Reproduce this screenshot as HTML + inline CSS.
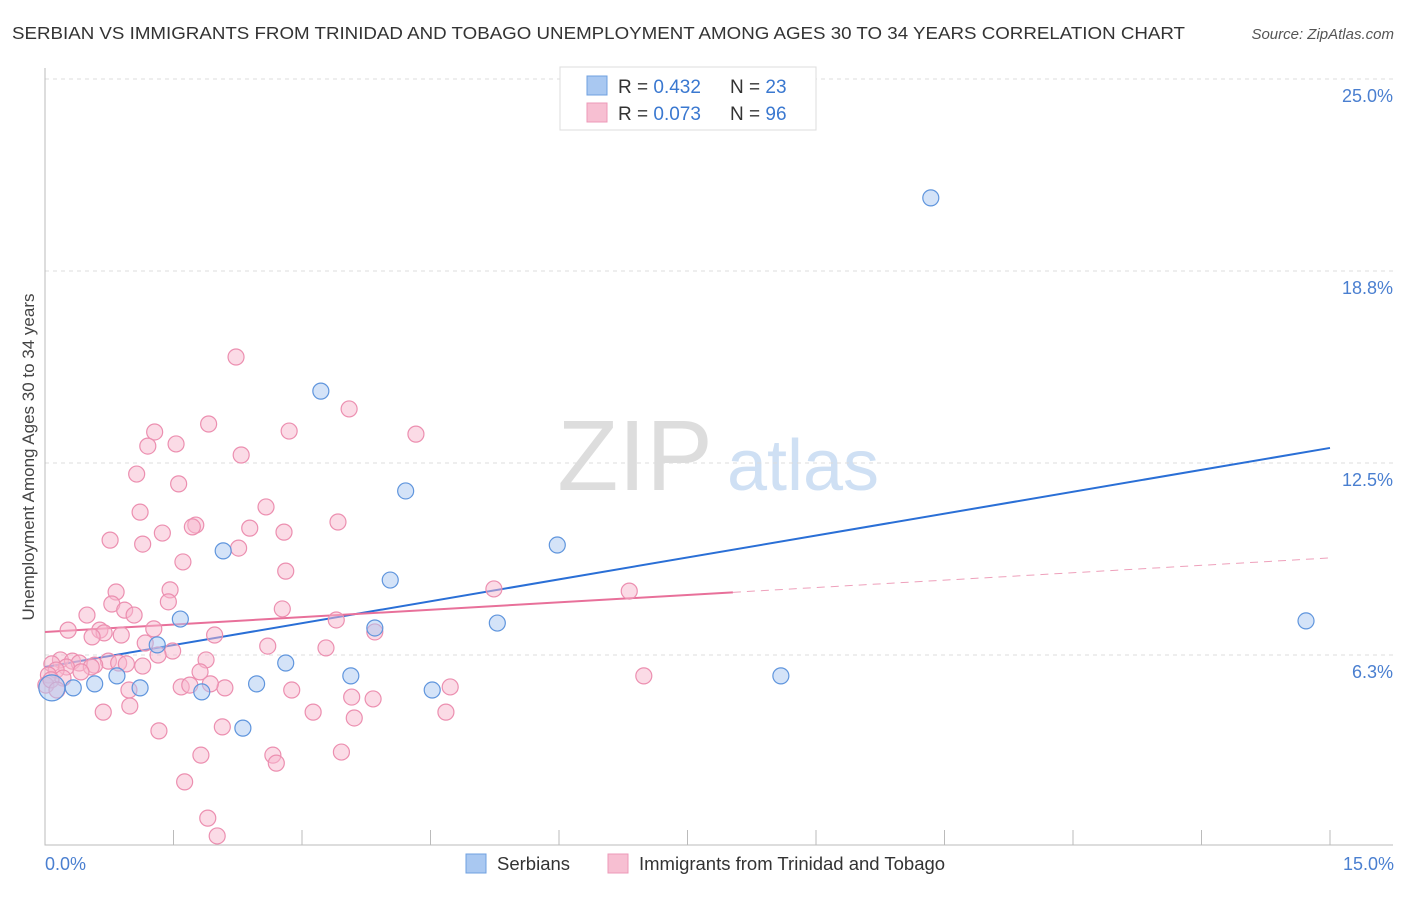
<!DOCTYPE html>
<html><head><meta charset="utf-8"><style>
body{margin:0;background:#fff;font-family:"Liberation Sans",sans-serif}
svg text{font-family:"Liberation Sans",sans-serif}
</style></head><body>
<svg id="chart" width="1406" height="892" viewBox="0 0 1406 892" xmlns="http://www.w3.org/2000/svg">
<text x="12" y="39" font-size="17.5" fill="#333" textLength="1173" lengthAdjust="spacingAndGlyphs">SERBIAN VS IMMIGRANTS FROM TRINIDAD AND TOBAGO UNEMPLOYMENT AMONG AGES 30 TO 34 YEARS CORRELATION CHART</text>
<text x="1394" y="39" font-size="15" fill="#555" font-style="italic" text-anchor="end">Source: ZipAtlas.com</text>
<g>
<text x="635" y="490" font-size="100" fill="#ddd" font-family="Liberation Serif" text-anchor="middle">ZIP</text>
<text x="803" y="490" font-size="72" fill="#cfe0f4" text-anchor="middle">atlas</text>
</g>
<g id="grid"></g>
<g id="axes"></g>
<g id="lines"></g>
<g id="points"></g>
<text transform="translate(34,457) rotate(-90)" font-size="17" fill="#444" text-anchor="middle">Unemployment Among Ages 30 to 34 years</text>
<text x="45" y="870" font-size="18" fill="#4a7fd0">0.0%</text>
<text x="1394" y="870" font-size="18" fill="#4a7fd0" text-anchor="end">15.0%</text>
<g>
<rect x="560" y="67" width="256" height="63" fill="#fff" stroke="#ddd"/>
<rect x="587" y="76" width="20" height="19" fill="#a9c8f1" stroke="#6fa0e0"/>
<rect x="587" y="103" width="20" height="19" fill="#f7bfd2" stroke="#ec9ab8"/>
<text x="618" y="93" font-size="19" fill="#333">R = <tspan fill="#3a78d0">0.432</tspan></text>
<text x="730" y="93" font-size="19" fill="#333">N = <tspan fill="#3a78d0">23</tspan></text>
<text x="618" y="120" font-size="19" fill="#333">R = <tspan fill="#3a78d0">0.073</tspan></text>
<text x="730" y="120" font-size="19" fill="#333">N = <tspan fill="#3a78d0">96</tspan></text>
</g>
<g>
<rect x="466" y="854" width="20" height="19" fill="#a9c8f1" stroke="#6fa0e0"/>
<text x="497" y="870" font-size="18.5" fill="#333">Serbians</text>
<rect x="608" y="854" width="20" height="19" fill="#f7bfd2" stroke="#ec9ab8"/>
<text x="639" y="870" font-size="18.5" fill="#333">Immigrants from Trinidad and Tobago</text>
</g>
</svg>
<script>
const yTicks=[6.25,12.5,18.75,25];
const yTickLabels=["6.3%","12.5%","18.8%","25.0%"];
const serbX=[10.34,3.22,4.21,5.98,2.08,4.03,1.58,5.28,3.85,14.72,1.31,2.81,0.84,3.57,8.59,0.58,0.33,1.11,1.83,2.47,4.52,2.31,0.08];
const serbY=[21.13,14.84,11.59,9.83,9.64,8.69,7.42,7.29,7.13,7.36,6.58,5.99,5.57,5.57,5.57,5.31,5.18,5.18,5.05,5.31,5.11,3.87,5.18];
const trinX=[2.23,3.55,1.28,1.91,2.85,4.33,1.20,1.53,2.29,1.07,1.56,2.58,1.11,3.42,1.76,1.72,2.39,2.79,1.37,0.76,1.14,2.26,1.61,2.81,5.24,6.82,0.83,1.46,0.78,1.44,0.93,1.04,2.77,0.49,3.40,1.27,0.27,0.64,0.69,0.89,1.98,0.55,3.85,1.17,2.60,3.28,1.49,1.32,0.18,0.32,0.74,1.88,0.40,0.58,0.86,0.54,0.08,1.14,0.95,0.25,0.13,0.42,1.81,6.99,0.04,0.21,0.01,1.59,1.69,2.10,1.93,0.98,2.88,4.73,3.58,3.83,0.99,0.68,3.13,4.68,3.61,2.07,1.33,1.82,2.66,3.46,2.70,1.63,1.90,2.01,0.07,0.14];
const trinY=[15.95,14.26,13.51,13.77,13.54,13.44,13.05,13.12,12.76,12.14,11.82,11.07,10.90,10.58,10.48,10.42,10.38,10.25,10.22,9.99,9.86,9.73,9.28,8.98,8.40,8.33,8.30,8.37,7.91,7.98,7.71,7.55,7.75,7.55,7.39,7.10,7.06,7.06,6.97,6.90,6.90,6.84,7.00,6.64,6.54,6.48,6.38,6.25,6.09,6.05,6.05,6.09,5.99,5.92,5.99,5.86,5.96,5.89,5.96,5.86,5.76,5.70,5.70,5.57,5.60,5.50,5.27,5.21,5.27,5.18,5.31,5.11,5.11,5.21,4.88,4.82,4.59,4.39,4.39,4.39,4.20,3.91,3.78,2.99,2.99,3.09,2.73,2.12,0.94,0.36,5.44,5.11];
const serbTrend=[5.86,12.99];
const trinTrend=[7.0,9.41];
const trinSolidEnd=8.03;
const NS="http://www.w3.org/2000/svg";
const X0=45,X1=1330,YB=847;
const sx=v=>X0+v/15*(X1-X0);
const sy=v=>YB-v*(192/6.25);
function mk(tag,attrs,parent){const e=document.createElementNS(NS,tag);for(const k in attrs)e.setAttribute(k,attrs[k]);parent.appendChild(e);return e;}
const grid=document.getElementById('grid'),axes=document.getElementById('axes'),lines=document.getElementById('lines'),pts=document.getElementById('points');
yTicks.forEach((t,i)=>{
 const l=mk('line',{x1:X0,x2:1393,y1:sy(t),y2:sy(t),stroke:'#ddd','stroke-dasharray':'4 4'},grid);
 
 
 const tx=mk('text',{x:1393,y:sy(t)+23,'font-size':18,fill:'#4a7fd0','text-anchor':'end'},grid);
 tx.textContent=yTickLabels[i];
 
 
});
const ax=mk('path',{d:`M${X0} 68V845H1393`,stroke:'#bbb',fill:'none'},axes);


for(let i=0;i<=10;i++){
 const t=mk('line',{x1:sx(i*1.5),x2:sx(i*1.5),y1:830,y2:845,stroke:'#bbb'},axes);
 
 
}
function dot(x,y,r,fill,stroke,name){
 const c=mk('circle',{cx:sx(x),cy:sy(y),r:r,fill:fill,'fill-opacity':0.5,stroke:stroke,'stroke-width':1.2},pts);
 
 
}
trinX.forEach((x,i)=>dot(x,trinY[i],8,'#f7b8cd','#ec8fb0','trinidad-point'));
serbX.forEach((x,i)=>dot(x,serbY[i],i===serbX.length-1?13:8,'#a9c8f1','#5f95dd','serbian-point'));
const bl=mk('line',{x1:sx(0),y1:sy(serbTrend[0]),x2:sx(15),y2:sy(serbTrend[1]),stroke:'#2a6fd6','stroke-width':2},lines);


const pm=trinTrend[0]+(trinTrend[1]-trinTrend[0])*trinSolidEnd/15;
const pl=mk('line',{x1:sx(0),y1:sy(trinTrend[0]),x2:sx(trinSolidEnd),y2:sy(pm),stroke:'#e8709a','stroke-width':2},lines);


const pd=mk('line',{x1:sx(trinSolidEnd),y1:sy(pm),x2:sx(15),y2:sy(trinTrend[1]),stroke:'#eea0bb','stroke-width':1,'stroke-dasharray':'8 6'},lines);


</script>
</body></html>
